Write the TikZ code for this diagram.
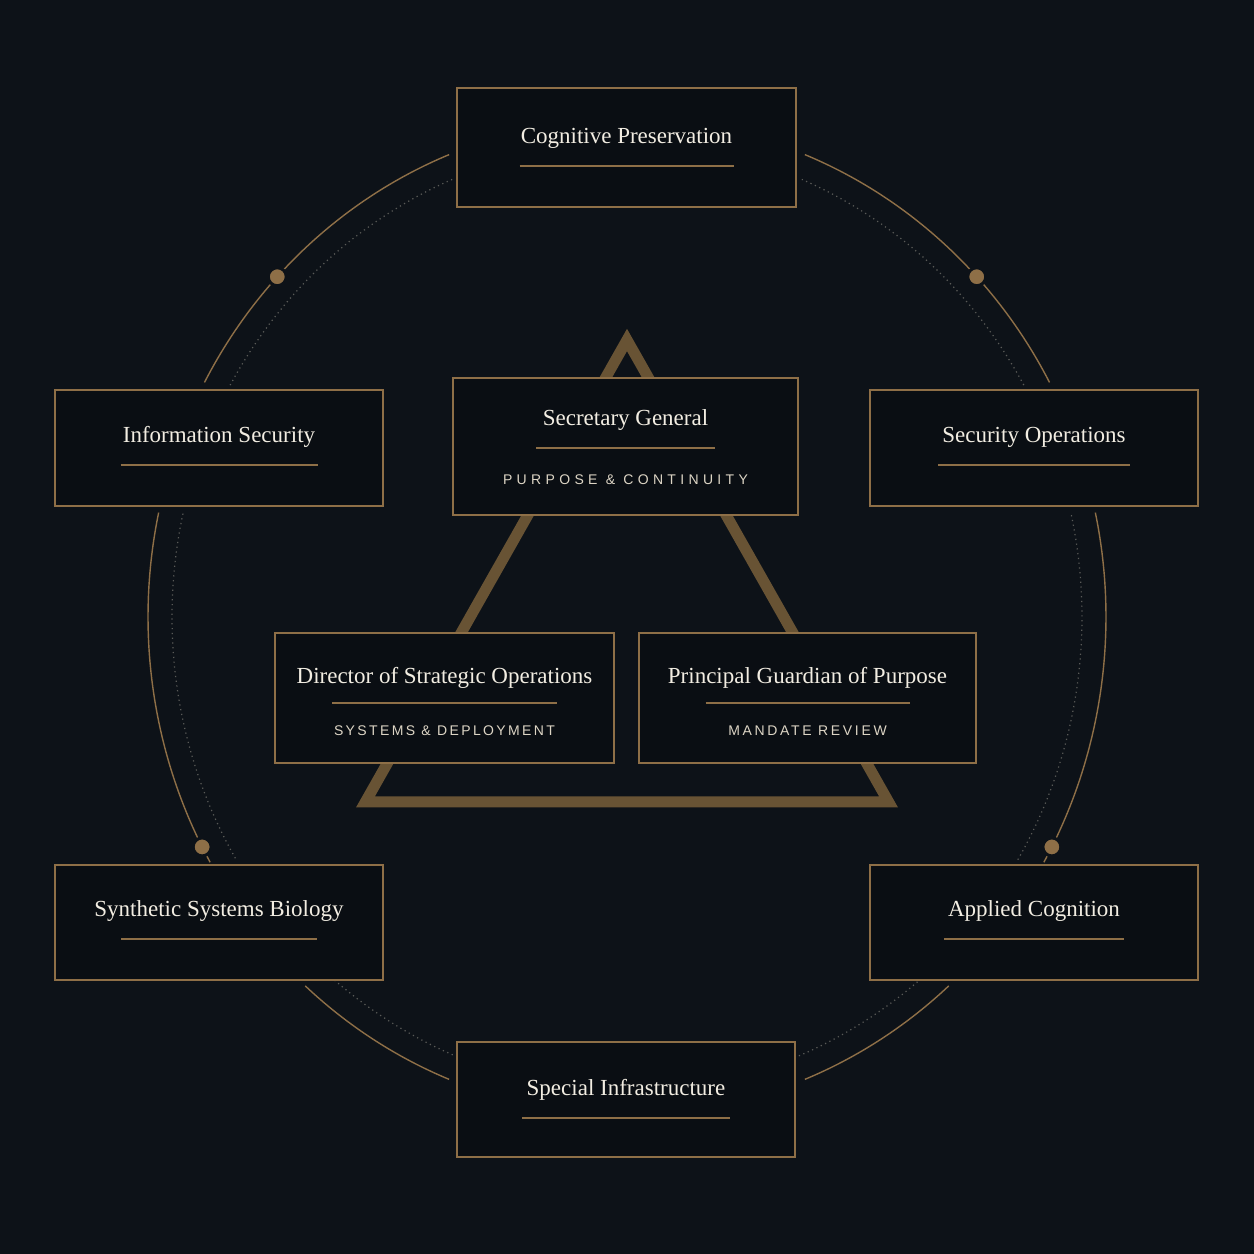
\documentclass[tikz,border=0pt]{standalone}
\usepackage{fontspec}
\usetikzlibrary{positioning}
\newfontfamily\capsfont{Liberation Sans}
\newfontfamily\officefont{Liberation Serif}
\definecolor{NightBg}{HTML}{0D1218}
\definecolor{BoxFill}{HTML}{0A0E13}
\definecolor{Gilt}{HTML}{8E6F47}
\definecolor{GiltDim}{HTML}{685334}
\definecolor{Ivory}{HTML}{F2EDE2}
\definecolor{Parch}{HTML}{DDD5C5}
\definecolor{Ash}{HTML}{5A5B58}

\begin{document}
\begin{tikzpicture}[
    x=1pt, y=1pt,
    office/.style={draw=Gilt, line width=1.5pt, fill=BoxFill, inner sep=0pt},
    title/.style={text=Ivory, font=\officefont\fontsize{23}{26}\selectfont, anchor=base, inner sep=0pt},
    remit/.style={text=Parch, font=\capsfont\fontsize{14}{16}\selectfont, anchor=base, inner sep=0pt},
    rule/.style={draw=Gilt, line width=2pt},
    orbit/.style={draw=Gilt, line width=1.4pt},
    trail/.style={draw=Ash, line width=1.2pt, dash pattern=on 1.2pt off 3.6pt},
    bead/.style={circle, fill=Gilt, draw=NightBg, line width=3pt, minimum size=18pt, inner sep=0pt}
]
  \fill[NightBg] (0,0) rectangle (1254,1254);
  \useasboundingbox (0,0) rectangle (1254,1254);
  \coordinate (hub) at (627,637);

  % Orbit (outer line, inner dotted trail)
  \foreach \s/\e in {111.8/151.9, 167.9/209.5, 227.8/248.2, 28.1/68.2, -29.5/12.1, -68.2/-47.8}{
    \draw[orbit] (hub) ++(\s:479pt and 498pt) arc[start angle=\s, end angle=\e, x radius=479pt, y radius=498pt];
  }
  \foreach \s/\e in {112.6/150.7, 167.4/210.8, 230/247.8, 29.3/67.4, -30.8/12.6, -67.8/-50}{
    \draw[trail] (hub) ++(\s:455pt and 474pt) arc[start angle=\s, end angle=\e, x radius=455pt, y radius=474pt];
  }
  \node[bead] (bead-nw) at ([shift={(136.9:479pt and 498pt)}]hub) {};
  \node[bead] (bead-ne) at ([shift={(43.1:479pt and 498pt)}]hub) {};
  \node[bead] (bead-sw) at ([shift={(207.5:479pt and 498pt)}]hub) {};
  \node[bead] (bead-se) at ([shift={(-27.5:479pt and 498pt)}]hub) {};

  % Triangle
  \draw[GiltDim, line width=11pt, line join=miter] (627,914) -- (888.6,452) -- (365.4,452) -- cycle;

  % Outer offices
  \foreach \n/\x/\y/\w/\h/\ty/\ry/\rw/\t in {
      cog/626.5/1106.5/339/119/3.5/-18.5/107/Cognitive Preservation,
      infosec/219/806/328/116/5/-17/98.5/Information Security,
      secops/1034/806/328/116/5/-17/96/Security Operations,
      synbio/219/331.5/328/115/5.5/-16.5/98/Synthetic Systems Biology,
      appcog/1034/331.5/328/115/5.5/-16.5/90/Applied Cognition,
      infra/626/154.5/338/115/3.5/-18.5/104/Special Infrastructure}{
    \node[office, minimum width=\w pt, minimum height=\h pt] (\n) at (\x,\y) {};
    \node[title] (\n-title) at ([yshift=\ty pt]\n.center) {\t};
    \draw[rule] ([shift={(-\rw,\ry)}]\n.center) -- ([shift={(\rw,\ry)}]\n.center);
  }

  % Inner offices
  \node[office, minimum width=345pt, minimum height=137pt] (secgen) at (625.5,807.5) {};
  \node[title] (secgen-title) at ([yshift=20.5pt]secgen.center) {Secretary General};
  \draw[rule] ([shift={(-89.5,-1.5)}]secgen.center) -- ([shift={(89.5,-1.5)}]secgen.center);
  \node[remit] (secgen-remit) at ([yshift=-38.5pt]secgen.center) {\addfontfeature{LetterSpace=31}PURPOSE \& CONTINUITY};

  \node[office, minimum width=339pt, minimum height=130pt] (dirops) at (444.5,556) {};
  \node[title] (dirops-title) at ([yshift=14pt]dirops.center) {Director of Strategic Operations};
  \draw[rule] ([shift={(-112.5,-5)}]dirops.center) -- ([shift={(112.5,-5)}]dirops.center);
  \node[remit] (dirops-remit) at ([yshift=-38pt]dirops.center) {\addfontfeature{LetterSpace=17}SYSTEMS \& DEPLOYMENT};

  \node[office, minimum width=337pt, minimum height=130pt] (guardian) at (807.5,556) {};
  \node[title] (guardian-title) at ([yshift=14pt]guardian.center) {Principal Guardian of Purpose};
  \draw[rule] ([shift={(-102,-5)}]guardian.center) -- ([shift={(102,-5)}]guardian.center);
  \node[remit] (guardian-remit) at ([yshift=-38pt]guardian.center) {\addfontfeature{LetterSpace=19}MANDATE REVIEW};
\end{tikzpicture}
\end{document}
